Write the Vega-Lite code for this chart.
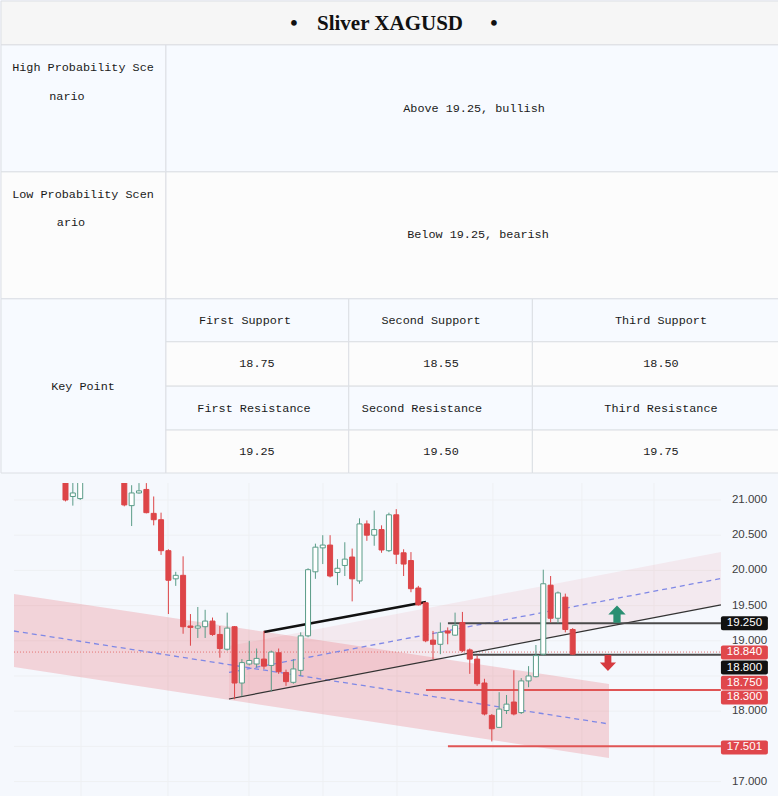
{
  "$schema": "https://vega.github.io/schema/vega-lite/v6.json",
  "background": "#f5f8fd",
  "padding": 0,
  "spacing": 8,
  "config": {"view": {"stroke": null}, "axis": {"disable": true}, "legend": {"disable": true}},
  "resolve": {"scale": {"x": "independent", "y": "independent", "fill": "independent", "color": "independent", "stroke": "independent"}},
  "datasets": {
    "cells": [
      {"x": 0, "x2": 100, "y": 0, "y2": 9.3, "k": "head"},
      {"x": 0, "x2": 21.2, "y": 9.3, "y2": 36.2, "k": "blue"},
      {"x": 21.2, "x2": 100, "y": 9.3, "y2": 36.2, "k": "blue"},
      {"x": 0, "x2": 21.2, "y": 36.2, "y2": 63.1, "k": "plain"},
      {"x": 21.2, "x2": 100, "y": 36.2, "y2": 63.1, "k": "plain"},
      {"x": 0, "x2": 21.2, "y": 63.1, "y2": 100, "k": "blue"},
      {"x": 21.2, "x2": 44.7, "y": 63.1, "y2": 72.2, "k": "blue"},
      {"x": 21.2, "x2": 44.7, "y": 72.2, "y2": 81.6, "k": "plain"},
      {"x": 21.2, "x2": 44.7, "y": 81.6, "y2": 90.9, "k": "blue"},
      {"x": 21.2, "x2": 44.7, "y": 90.9, "y2": 100, "k": "plain"},
      {"x": 44.7, "x2": 68.3, "y": 63.1, "y2": 72.2, "k": "blue"},
      {"x": 44.7, "x2": 68.3, "y": 72.2, "y2": 81.6, "k": "plain"},
      {"x": 44.7, "x2": 68.3, "y": 81.6, "y2": 90.9, "k": "blue"},
      {"x": 44.7, "x2": 68.3, "y": 90.9, "y2": 100, "k": "plain"},
      {"x": 68.3, "x2": 100, "y": 63.1, "y2": 72.2, "k": "blue"},
      {"x": 68.3, "x2": 100, "y": 72.2, "y2": 81.6, "k": "plain"},
      {"x": 68.3, "x2": 100, "y": 81.6, "y2": 90.9, "k": "blue"},
      {"x": 68.3, "x2": 100, "y": 90.9, "y2": 100, "k": "plain"}
    ],
    "title": [
      {"x": 37.66, "y": 4.9, "t": "•"},
      {"x": 50.0, "y": 4.9, "t": "Sliver XAGUSD"},
      {"x": 63.37, "y": 4.9, "t": "•"}
    ],
    "texts": [
      {"x": 10.54, "y": 14.05, "t": "High Probability Sce"},
      {"x": 8.48, "y": 20.2, "t": "nario"},
      {"x": 60.8, "y": 22.75, "t": "Above 19.25, bullish"},
      {"x": 10.54, "y": 40.85, "t": "Low Probability Scen"},
      {"x": 9.0, "y": 46.75, "t": "ario"},
      {"x": 61.31, "y": 49.45, "t": "Below 19.25, bearish"},
      {"x": 10.54, "y": 81.55, "t": "Key Point"},
      {"x": 31.36, "y": 67.65, "t": "First Support"},
      {"x": 55.27, "y": 67.65, "t": "Second Support"},
      {"x": 84.83, "y": 67.65, "t": "Third Support"},
      {"x": 32.9, "y": 76.8, "t": "18.75"},
      {"x": 56.56, "y": 76.8, "t": "18.55"},
      {"x": 84.83, "y": 76.8, "t": "18.50"},
      {"x": 32.52, "y": 86.25, "t": "First Resistance"},
      {"x": 54.11, "y": 86.25, "t": "Second Resistance"},
      {"x": 84.83, "y": 86.25, "t": "Third Resistance"},
      {"x": 32.9, "y": 95.4, "t": "19.25"},
      {"x": 56.56, "y": 95.4, "t": "19.50"},
      {"x": 84.83, "y": 95.4, "t": "19.75"}
    ],
    "candles": [
      {"i": 0, "o": 21.30, "h": 21.35, "l": 20.98, "c": 21.00},
      {"i": 1, "o": 21.05, "h": 21.35, "l": 20.92, "c": 21.10},
      {"i": 2, "o": 21.02, "h": 21.35, "l": 21.00, "c": 21.30},
      {"i": 8, "o": 21.30, "h": 21.35, "l": 20.91, "c": 20.93},
      {"i": 9, "o": 20.92, "h": 21.21, "l": 20.63, "c": 21.10},
      {"i": 10, "o": 21.10, "h": 21.24, "l": 21.09, "c": 21.13},
      {"i": 11, "o": 21.15, "h": 21.24, "l": 20.81, "c": 20.82},
      {"i": 12, "o": 20.81, "h": 21.05, "l": 20.64, "c": 20.72},
      {"i": 13, "o": 20.72, "h": 20.82, "l": 20.22, "c": 20.28},
      {"i": 14, "o": 20.28, "h": 20.30, "l": 19.38, "c": 19.86},
      {"i": 15, "o": 19.88, "h": 19.98, "l": 19.78, "c": 19.93},
      {"i": 16, "o": 19.93, "h": 20.20, "l": 19.10, "c": 19.20},
      {"i": 17, "o": 19.21, "h": 19.38, "l": 18.93, "c": 19.19},
      {"i": 18, "o": 19.18, "h": 19.48, "l": 19.04, "c": 19.21},
      {"i": 19, "o": 19.20, "h": 19.44, "l": 19.04, "c": 19.28},
      {"i": 20, "o": 19.28, "h": 19.33, "l": 19.07, "c": 19.09},
      {"i": 21, "o": 19.09, "h": 19.21, "l": 18.76, "c": 18.89},
      {"i": 22, "o": 18.88, "h": 19.40, "l": 18.86, "c": 19.18},
      {"i": 23, "o": 19.20, "h": 19.21, "l": 18.17, "c": 18.40},
      {"i": 24, "o": 18.40, "h": 18.74, "l": 18.21, "c": 18.69},
      {"i": 25, "o": 18.67, "h": 19.00, "l": 18.65, "c": 18.72},
      {"i": 26, "o": 18.67, "h": 18.89, "l": 18.62, "c": 18.75},
      {"i": 27, "o": 18.74, "h": 19.14, "l": 18.60, "c": 18.64},
      {"i": 28, "o": 18.65, "h": 18.86, "l": 18.28, "c": 18.84},
      {"i": 29, "o": 18.83, "h": 18.89, "l": 18.53, "c": 18.56},
      {"i": 30, "o": 18.55, "h": 18.59, "l": 18.36, "c": 18.42},
      {"i": 31, "o": 18.41, "h": 18.74, "l": 18.39, "c": 18.60},
      {"i": 32, "o": 18.58, "h": 19.12, "l": 18.50, "c": 19.07},
      {"i": 33, "o": 19.07, "h": 20.03, "l": 19.05, "c": 20.01},
      {"i": 34, "o": 19.98, "h": 20.38, "l": 19.88, "c": 20.33},
      {"i": 35, "o": 20.32, "h": 20.50, "l": 20.09, "c": 20.36},
      {"i": 36, "o": 20.36, "h": 20.50, "l": 19.90, "c": 19.92},
      {"i": 37, "o": 19.97, "h": 20.16, "l": 19.79, "c": 20.03},
      {"i": 38, "o": 20.07, "h": 20.40, "l": 19.92, "c": 20.16},
      {"i": 39, "o": 20.19, "h": 20.31, "l": 19.56, "c": 19.88},
      {"i": 40, "o": 19.85, "h": 20.74, "l": 19.81, "c": 20.66},
      {"i": 41, "o": 20.66, "h": 20.71, "l": 20.42, "c": 20.50},
      {"i": 42, "o": 20.50, "h": 20.85, "l": 20.35, "c": 20.58},
      {"i": 43, "o": 20.58, "h": 20.64, "l": 20.25, "c": 20.29},
      {"i": 44, "o": 20.28, "h": 20.82, "l": 20.26, "c": 20.79},
      {"i": 45, "o": 20.79, "h": 20.87, "l": 20.09, "c": 20.23},
      {"i": 46, "o": 20.25, "h": 20.30, "l": 19.92, "c": 20.09},
      {"i": 47, "o": 20.14, "h": 20.26, "l": 19.69, "c": 19.74},
      {"i": 48, "o": 19.75, "h": 19.78, "l": 19.50, "c": 19.51},
      {"i": 49, "o": 19.54, "h": 19.55, "l": 18.98, "c": 19.00},
      {"i": 50, "o": 19.01, "h": 19.14, "l": 18.74, "c": 18.95},
      {"i": 51, "o": 18.95, "h": 19.26, "l": 18.81, "c": 19.12},
      {"i": 52, "o": 19.14, "h": 19.19, "l": 18.95, "c": 19.11},
      {"i": 53, "o": 19.08, "h": 19.40, "l": 19.07, "c": 19.22},
      {"i": 54, "o": 19.26, "h": 19.41, "l": 18.84, "c": 18.86},
      {"i": 55, "o": 18.87, "h": 18.89, "l": 18.53, "c": 18.74},
      {"i": 56, "o": 18.74, "h": 18.79, "l": 18.36, "c": 18.39},
      {"i": 57, "o": 18.40, "h": 18.46, "l": 17.94, "c": 17.96},
      {"i": 58, "o": 17.94, "h": 17.96, "l": 17.57, "c": 17.75},
      {"i": 59, "o": 17.77, "h": 18.27, "l": 17.76, "c": 18.03},
      {"i": 60, "o": 18.01, "h": 18.23, "l": 17.96, "c": 18.10},
      {"i": 61, "o": 18.13, "h": 18.58, "l": 17.94, "c": 17.96},
      {"i": 62, "o": 17.98, "h": 18.47, "l": 17.96, "c": 18.43},
      {"i": 63, "o": 18.43, "h": 18.64, "l": 18.34, "c": 18.50},
      {"i": 64, "o": 18.49, "h": 18.94, "l": 18.48, "c": 18.79},
      {"i": 65, "o": 18.81, "h": 20.01, "l": 18.79, "c": 19.81},
      {"i": 66, "o": 19.79, "h": 19.92, "l": 19.26, "c": 19.32},
      {"i": 67, "o": 19.32, "h": 19.70, "l": 19.25, "c": 19.68},
      {"i": 68, "o": 19.62, "h": 19.67, "l": 19.12, "c": 19.16},
      {"i": 69, "o": 19.16, "h": 19.18, "l": 18.80, "c": 18.81}
    ],
    "hgrid": [{"p": 17}, {"p": 17.5}, {"p": 18}, {"p": 18.5}, {"p": 19}, {"p": 19.5}, {"p": 20}, {"p": 20.5}, {"p": 21}],
    "vgrid": [{"i": 2.11}, {"i": 13.94}, {"i": 24.96}, {"i": 35.03}, {"i": 45.1}, {"i": 58.15}, {"i": 70.26}, {"i": 80.06}],
    "descBand": [
      {"i": -7.006, "top": 19.665, "bot": 18.628, "mid": 19.139},
      {"i": 73.94, "top": 18.386, "bot": 17.335, "mid": 17.818}
    ],
    "ascBand": [
      {"i": 22.24, "top": 18.926, "bot": 18.173, "mid": 18.55},
      {"i": 89.17, "top": 20.261, "bot": 19.509, "mid": 19.885}
    ],
    "trend": [{"i": 27.0, "p": 19.125}, {"i": 49.04, "p": 19.551}],
    "levels": [
      {"p": 19.25, "from": 52.03, "k": "dark"},
      {"p": 18.80, "from": 55.43, "k": "dark"},
      {"p": 18.30, "from": 49.04, "k": "red"},
      {"p": 17.50, "from": 52.03, "k": "red"}
    ],
    "tags": [
      {"v": "19.250", "at": 19.25, "k": "dark"},
      {"v": "18.840", "at": 18.835, "k": "red"},
      {"v": "18.800", "at": 18.62, "k": "dark"},
      {"v": "18.750", "at": 18.405, "k": "red"},
      {"v": "18.300", "at": 18.195, "k": "red"},
      {"v": "17.501", "at": 17.485, "k": "red"}
    ],
    "ticks": [
      {"p": 21, "t": "21.000"}, {"p": 20.5, "t": "20.500"}, {"p": 20, "t": "20.000"},
      {"p": 19.5, "t": "19.500"}, {"p": 19, "t": "19.000"}, {"p": 18, "t": "18.000"}, {"p": 17, "t": "17.000"}
    ],
    "arrows": [
      {"i": 75.03, "p": 19.38, "dir": "up"},
      {"i": 73.8, "p": 18.685, "dir": "down"}
    ]
  },
  "vconcat": [
    {
      "width": 778,
      "height": 472,
      "layer": [
        {
          "data": {"name": "cells"},
          "mark": {"type": "rect", "stroke": "#dcdfe4", "strokeWidth": 1},
          "encoding": {
            "x": {"field": "x", "type": "quantitative", "scale": {"domain": [0, 100], "nice": false, "zero": false, "padding": 0}},
            "x2": {"field": "x2"},
            "y": {"field": "y", "type": "quantitative", "scale": {"domain": [0, 100], "nice": false, "zero": false, "reverse": true, "padding": 0}},
            "y2": {"field": "y2"},
            "fill": {"field": "k", "type": "nominal", "scale": {"domain": ["head", "blue", "plain"], "range": ["#f6f6f6", "#f7faff", "#fcfcfc"]}}
          }
        },
        {
          "data": {"name": "title"},
          "mark": {"type": "text", "font": "Liberation Serif", "fontSize": 21, "fontWeight": "bold", "color": "#111111", "baseline": "middle", "align": "center"},
          "encoding": {
            "x": {"field": "x", "type": "quantitative"},
            "y": {"field": "y", "type": "quantitative"},
            "text": {"field": "t"}
          }
        },
        {
          "data": {"name": "texts"},
          "mark": {"type": "text", "font": "Liberation Mono", "fontSize": 11.8, "color": "#1a1a1a", "baseline": "middle", "align": "center"},
          "encoding": {
            "x": {"field": "x", "type": "quantitative"},
            "y": {"field": "y", "type": "quantitative"},
            "text": {"field": "t"}
          }
        }
      ]
    },
    {
      "width": 778,
      "height": 313,
      "layer": [
        {
          "data": {"name": "hgrid"},
          "mark": {"type": "rule", "color": "#eef0f3", "strokeWidth": 1},
          "encoding": {
            "y": {"field": "p", "type": "quantitative", "scale": {"domain": [16.795, 21.2415], "nice": false, "zero": false, "padding": 0}},
            "x": {"datum": -7.006, "type": "quantitative", "scale": {"domain": [-8.774, 97.07], "nice": false, "zero": false, "padding": 0}},
            "x2": {"datum": 89.17}
          }
        },
        {
          "data": {"values": [{}]},
          "mark": {"type": "rect", "color": "#f5f8fd"},
          "encoding": {
            "x": {"datum": -8.774, "type": "quantitative"},
            "x2": {"datum": -7.006}
          }
        },
        {
          "data": {"name": "vgrid"},
          "mark": {"type": "rule", "color": "#eef0f3", "strokeWidth": 1},
          "encoding": {
            "x": {"field": "i", "type": "quantitative"}
          }
        },
        {
          "data": {"name": "descBand"},
          "mark": {"type": "area", "color": "#e8404c", "opacity": 0.2},
          "encoding": {
            "x": {"field": "i", "type": "quantitative"},
            "y": {"field": "top", "type": "quantitative"},
            "y2": {"field": "bot"}
          }
        },
        {
          "data": {"name": "ascBand"},
          "mark": {"type": "area", "color": "#e8404c", "opacity": 0.08},
          "encoding": {
            "x": {"field": "i", "type": "quantitative"},
            "y": {"field": "top", "type": "quantitative"},
            "y2": {"field": "bot"}
          }
        },
        {
          "data": {"values": [{}]},
          "mark": {"type": "rule", "color": "#e57373", "strokeWidth": 1, "strokeDash": [1, 2]},
          "encoding": {
            "y": {"datum": 18.84, "type": "quantitative"},
            "x": {"datum": -7.006, "type": "quantitative"},
            "x2": {"datum": 89.17}
          }
        },
        {
          "data": {"name": "descBand"},
          "mark": {"type": "line", "color": "#7f88e6", "strokeWidth": 1.3, "strokeDash": [5, 4]},
          "encoding": {
            "x": {"field": "i", "type": "quantitative"},
            "y": {"field": "mid", "type": "quantitative"}
          }
        },
        {
          "data": {"name": "ascBand"},
          "mark": {"type": "line", "color": "#7f88e6", "strokeWidth": 1.3, "strokeDash": [5, 4]},
          "encoding": {
            "x": {"field": "i", "type": "quantitative"},
            "y": {"field": "mid", "type": "quantitative"}
          }
        },
        {
          "data": {"name": "ascBand"},
          "mark": {"type": "line", "color": "#333333", "strokeWidth": 1.2},
          "encoding": {
            "x": {"field": "i", "type": "quantitative"},
            "y": {"field": "bot", "type": "quantitative"}
          }
        },
        {
          "data": {"name": "trend"},
          "mark": {"type": "line", "color": "#111111", "strokeWidth": 2.6},
          "encoding": {
            "x": {"field": "i", "type": "quantitative"},
            "y": {"field": "p", "type": "quantitative"}
          }
        },
        {
          "data": {"name": "levels"},
          "mark": {"type": "rule", "strokeWidth": 2},
          "encoding": {
            "x": {"field": "from", "type": "quantitative"},
            "x2": {"datum": 89.17},
            "y": {"field": "p", "type": "quantitative"},
            "color": {"field": "k", "type": "nominal", "scale": {"domain": ["dark", "red"], "range": ["#4a4a4a", "#e05555"]}}
          }
        },
        {
          "data": {"name": "candles"},
          "mark": {"type": "rule", "strokeWidth": 1, "clip": true},
          "encoding": {
            "x": {"field": "i", "type": "quantitative"},
            "y": {"field": "l", "type": "quantitative"},
            "y2": {"field": "h"},
            "stroke": {"condition": {"test": "datum.c >= datum.o", "value": "#5a9c88"}, "value": "#dd4548"}
          }
        },
        {
          "data": {"name": "candles"},
          "mark": {"type": "bar", "width": 5, "orient": "vertical", "strokeWidth": 1, "clip": true},
          "encoding": {
            "x": {"field": "i", "type": "quantitative"},
            "y": {"field": "o", "type": "quantitative"},
            "y2": {"field": "c"},
            "fill": {"condition": {"test": "datum.c >= datum.o", "value": "#ffffff"}, "value": "#dd4548"},
            "stroke": {"condition": {"test": "datum.c >= datum.o", "value": "#5a9c88"}, "value": "#dd4548"}
          }
        },
        {
          "data": {"name": "arrows"},
          "transform": [{"filter": "datum.dir == 'up'"}],
          "mark": {"type": "point", "filled": true, "opacity": 1, "color": "#2a8f72", "size": 300, "shape": "M0,-1L1,0.05L0.42,0.05L0.42,1L-0.42,1L-0.42,0.05L-1,0.05Z"},
          "encoding": {
            "x": {"field": "i", "type": "quantitative"},
            "y": {"field": "p", "type": "quantitative"}
          }
        },
        {
          "data": {"name": "arrows"},
          "transform": [{"filter": "datum.dir == 'down'"}],
          "mark": {"type": "point", "filled": true, "opacity": 1, "color": "#d63a3f", "size": 260, "shape": "M0,1L1,-0.05L0.42,-0.05L0.42,-1L-0.42,-1L-0.42,-0.05L-1,-0.05Z"},
          "encoding": {
            "x": {"field": "i", "type": "quantitative"},
            "y": {"field": "p", "type": "quantitative"}
          }
        },
        {
          "data": {"name": "tags"},
          "mark": {"type": "bar", "orient": "horizontal", "height": 14, "cornerRadius": 2},
          "encoding": {
            "x": {"datum": 89.17, "type": "quantitative"},
            "x2": {"datum": 95.56},
            "y": {"field": "at", "type": "quantitative"},
            "fill": {"field": "k", "type": "nominal", "scale": {"domain": ["dark", "red"], "range": ["#111111", "#e0474c"]}}
          }
        },
        {
          "data": {"name": "tags"},
          "mark": {"type": "text", "font": "Liberation Sans", "fontSize": 11.5, "color": "#ffffff", "align": "center", "baseline": "middle"},
          "encoding": {
            "x": {"datum": 92.37, "type": "quantitative"},
            "y": {"field": "at", "type": "quantitative"},
            "text": {"field": "v"}
          }
        },
        {
          "data": {"name": "ticks"},
          "mark": {"type": "text", "font": "Liberation Sans", "fontSize": 11.5, "color": "#3d3d3d", "align": "left", "baseline": "middle"},
          "encoding": {
            "x": {"datum": 90.67, "type": "quantitative"},
            "y": {"field": "p", "type": "quantitative"},
            "text": {"field": "t"}
          }
        }
      ]
    }
  ]
}
